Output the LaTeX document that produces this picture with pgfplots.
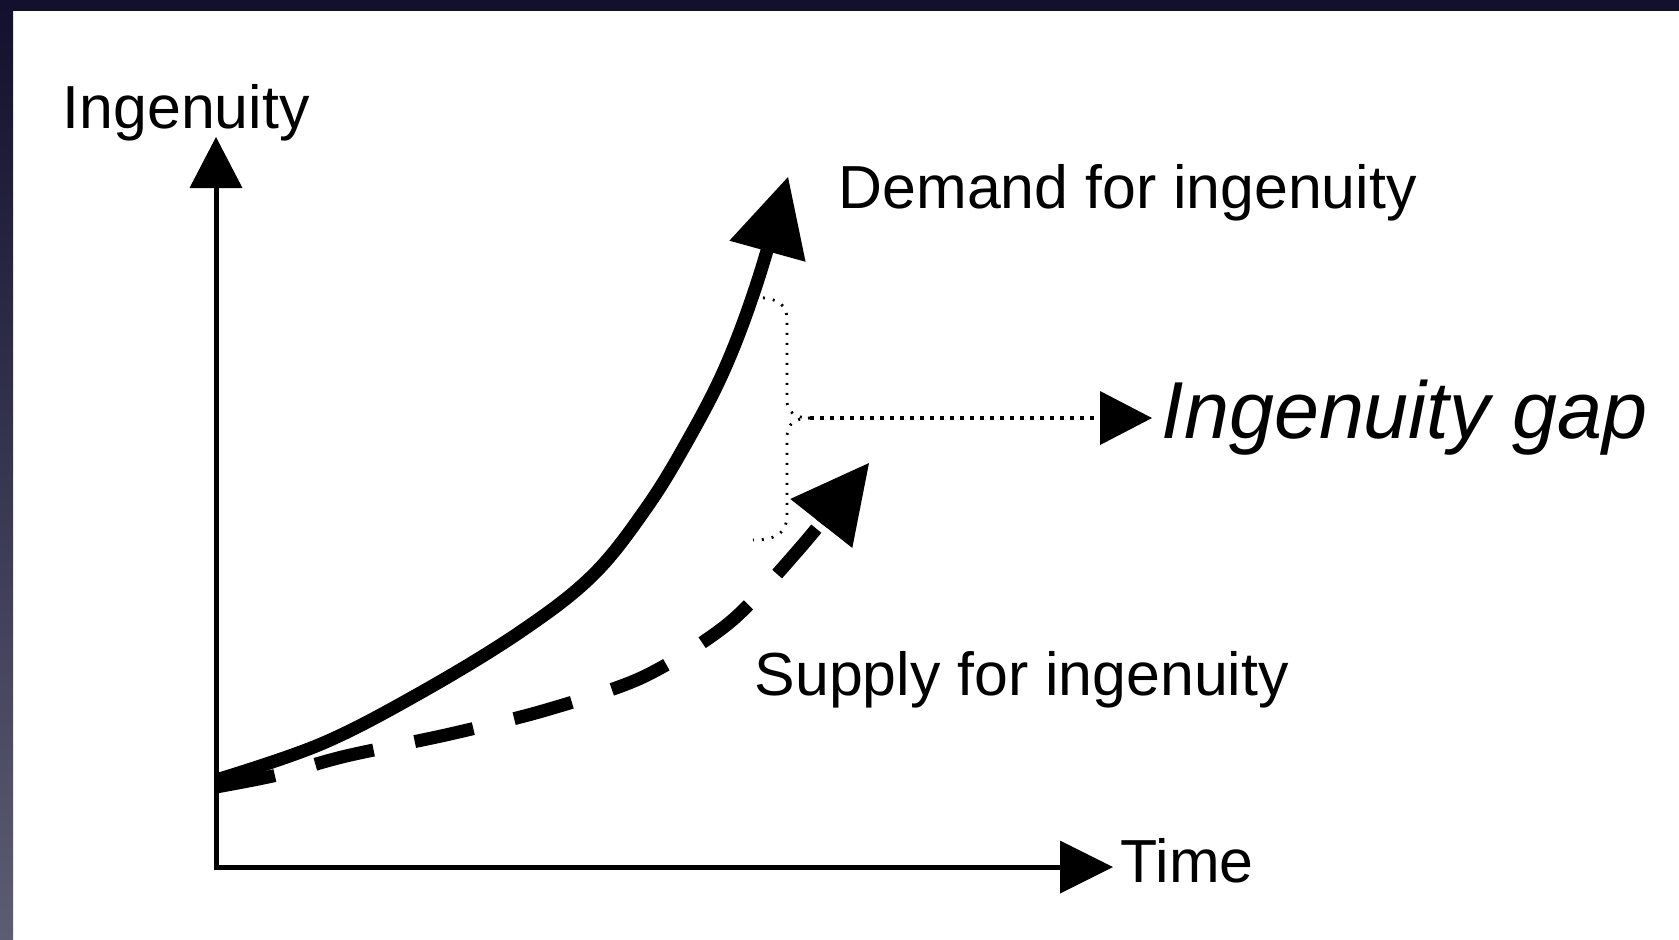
\documentclass[border=0pt]{standalone}
\usepackage{fontspec}
\setmainfont{Liberation Sans}
\usepackage{pgfplots}
\pgfplotsset{compat=1.18}
\usetikzlibrary{arrows.meta}
\definecolor{navytop}{RGB}{18,16,44}
\definecolor{navybot}{RGB}{92,92,114}
\begin{document}
\begin{tikzpicture}
\begin{axis}[width=167.9mm,height=93.9mm,scale only axis,
  xmin=0,xmax=1679,ymin=0,ymax=939,y dir=reverse,hide axis,clip=false]
\fill[white] (axis cs:0,0) rectangle (axis cs:1679,939);
\shade[top color=navytop,bottom color=navybot] (axis cs:0,0) rectangle (axis cs:13,939);
\fill[navytop] (axis cs:0,0) rectangle (axis cs:1679,11);
% axes
\addplot[line width=0.5mm,
  {Triangle[length=5.1mm,width=5.3mm,line width=0pt]}-{Triangle[length=5.3mm,width=5.3mm,line width=0pt]}]
  coordinates {(216,137) (216,867) (1113,867)};
% demand
\addplot[smooth, tension=0.6, line width=1.3mm, -{Triangle[length=7.7mm,width=7.9mm,line width=0pt]}]
  coordinates {(216,780) (321,744) (420,693) (520,632) (593,575) (647,507) (688,440) (725,368) (757,283) (788,177)};
% supply
\addplot[smooth, line width=1.3mm, dash pattern=on 6mm off 4.2mm, -{Triangle[length=7.7mm,width=7.9mm,line width=0pt]}]
  coordinates {(216,787) (277,775) (346,756) (450,734) (546,710) (643,677) (729,623) (800,548) (869,463)};
% brace
\draw[line width=0.28mm, dash pattern=on 0.2mm off 0.8mm]
  (axis cs:753,297) .. controls (axis cs:780,298) and (axis cs:787,305) .. (axis cs:787,320)
  -- (axis cs:787,400) .. controls (axis cs:787,412) and (axis cs:795,418) .. (axis cs:810,418);
\draw[line width=0.28mm, dash pattern=on 0.2mm off 0.8mm]
  (axis cs:810,418) .. controls (axis cs:795,418) and (axis cs:787,424) .. (axis cs:787,436)
  -- (axis cs:787,515) .. controls (axis cs:787,530) and (axis cs:780,540) .. (axis cs:753,540);
\draw[line width=0.35mm, dash pattern=on 0.35mm off 0.65mm, -{Triangle[length=5.2mm,width=5.4mm,line width=0pt]}]
  (axis cs:810,418) -- (axis cs:1152,418);
% labels
\node[anchor=base west,inner sep=0pt,font=\fontsize{17.3pt}{20pt}\selectfont] at (axis cs:62,128) {Ingenuity};
\node[anchor=base west,inner sep=0pt,font=\fontsize{17.3pt}{20pt}\selectfont] at (axis cs:838,208) {Demand for ingenuity};
\node[anchor=base west,inner sep=0pt,font=\fontsize{17.3pt}{20pt}\selectfont] at (axis cs:754,695) {Supply for ingenuity};
\node[anchor=base west,inner sep=0pt,font=\fontsize{17.3pt}{20pt}\selectfont] at (axis cs:1120,882) {Time};
\node[anchor=base west,inner sep=0pt,font=\fontsize{23pt}{26pt}\selectfont\itshape] at (axis cs:1161,438) {Ingenuity gap};
\end{axis}
\end{tikzpicture}
\end{document}
